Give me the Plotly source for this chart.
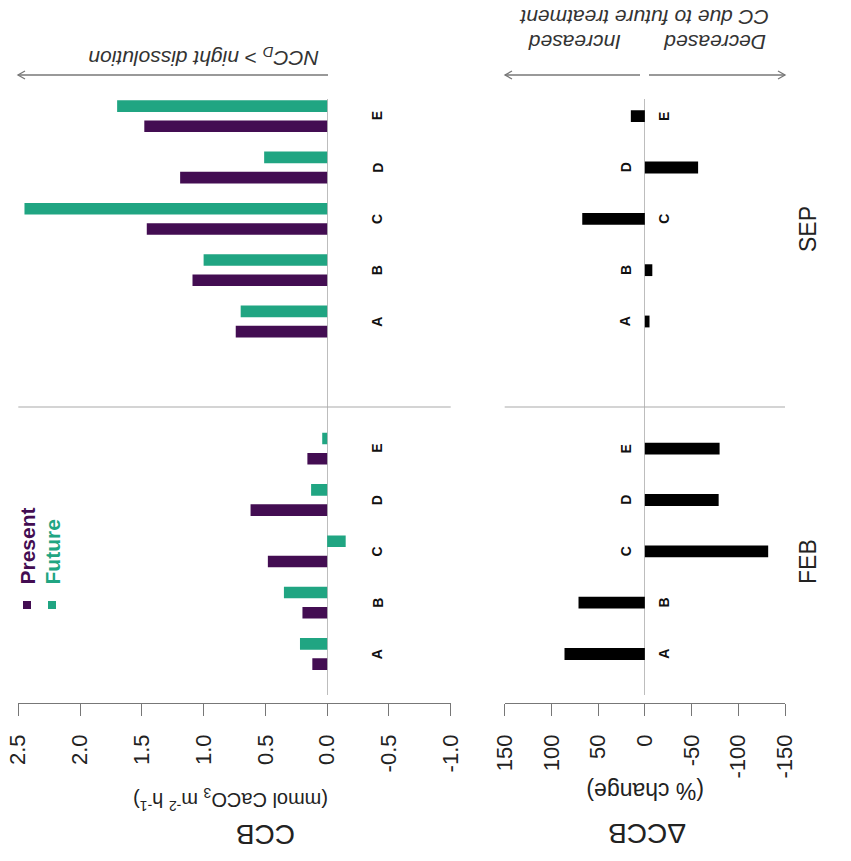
import plotly.graph_objects as go

W, H = 851, 861

# ---------------- data ----------------
categories = ['A', 'B', 'C', 'D', 'E']
months = ['FEB', 'SEP']
series_names = ['Present', 'Future']

feb_present = [0.12, 0.20, 0.48, 0.62, 0.16]
feb_future = [0.22, 0.35, -0.15, 0.13, 0.04]
sep_present = [0.74, 1.09, 1.46, 1.19, 1.48]
sep_future = [0.70, 1.00, 2.45, 0.51, 1.70]

feb_change = [86, 71, -132, -79, -80]
sep_change = [-5, -8, 67, -57, 15]

ccb_ticks = [2.5, 2.0, 1.5, 1.0, 0.5, 0.0, -0.5, -1.0]
ccb_ticktext = ['2.5', '2.0', '1.5', '1.0', '0.5', '0.0', '-0.5', '-1.0']
change_ticks = [150, 100, 50, 0, -50, -100, -150]
change_ticktext = ['150', '100', '50', '0', '-50', '-100', '-150']

# ---------------- style ----------------
PURPLE = '#430D52'
TEAL = '#20A582'
AXIS_GREY = '#777777'
FONT = 'Liberation Sans, Arial, Helvetica, sans-serif'


def px(x):
    return x / W


def py(y):
    return 1 - y / H


fig = go.Figure()

# CCB panels
for yax, pres, fut in [('y', feb_present, feb_future), ('y2', sep_present, sep_future)]:
    fig.add_trace(go.Bar(y=categories, x=pres, orientation='h', xaxis='x', yaxis=yax,
                         marker=dict(color=PURPLE, line=dict(width=0)), width=0.226, offset=-0.31,
                         name=series_names[0], showlegend=False))
    fig.add_trace(go.Bar(y=categories, x=fut, orientation='h', xaxis='x', yaxis=yax,
                         marker=dict(color=TEAL, line=dict(width=0)), width=0.226, offset=0.084,
                         name=series_names[1], showlegend=False))

# Delta CCB panels
for yax, ch in [('y', feb_change), ('y2', sep_change)]:
    fig.add_trace(go.Bar(y=categories, x=ch, orientation='h', xaxis='x2', yaxis=yax,
                         marker=dict(color='black', line=dict(width=0)), width=0.23, offset=-0.115,
                         name='ΔCCB', showlegend=False))

xcommon = dict(anchor='free', position=py(702.7), showline=True, linecolor=AXIS_GREY, linewidth=1,
               ticks='outside', ticklen=12, tickcolor=AXIS_GREY, tickwidth=1, tickangle=-90,
               tickfont=dict(size=22, color='#222', family=FONT), showgrid=False, automargin=False,
               zeroline=True, zerolinecolor='#bdbdbd', zerolinewidth=1.2, ticklabelstandoff=10)

fig.update_layout(
    template='none',
    width=W, height=H, margin=dict(l=0, r=0, t=0, b=0, pad=0, autoexpand=False),
    paper_bgcolor='white', plot_bgcolor='white', barmode='overlay', showlegend=False,
    font=dict(family=FONT, color='#222'),
    xaxis=dict(domain=[px(18.3), px(450.7)], range=[2.5, -1.0], tickvals=ccb_ticks,
               ticktext=ccb_ticktext, **xcommon),
    xaxis2=dict(domain=[px(504.7), px(785)], range=[150, -150], tickvals=change_ticks,
                ticktext=change_ticktext, **xcommon),
    yaxis=dict(domain=[py(695), py(407)], type='category', categoryorder='array',
               categoryarray=categories, range=[-0.799, 4.812], visible=False,
               anchor='free', position=0, automargin=False, showgrid=False, zeroline=False),
    yaxis2=dict(domain=[py(407), py(99)], type='category', categoryorder='array',
                categoryarray=categories, range=[-1.666, 4.335], visible=False,
                anchor='free', position=0, automargin=False, showgrid=False, zeroline=False),
)

shapes = []
for xr in ['x domain', 'x2 domain']:
    shapes.append(dict(type='line', xref=xr, x0=0, x1=1, yref='paper', y0=py(407), y1=py(407),
                       line=dict(color='#aaaaaa', width=1.2)))
# legend squares
for cx, col in [(27, PURPLE), (52, TEAL)]:
    shapes.append(dict(type='rect', xref='paper', yref='paper', x0=px(cx - 4), x1=px(cx + 4),
                       y0=py(609), y1=py(601), fillcolor=col, line=dict(width=0)))

# top arrows (line + open chevron head)
ARROW_Y = 75
for head, tail in [(18, 328), (505, 640), (785, 649)]:
    d = 1 if tail > head else -1
    shapes.append(dict(type='line', xref='paper', yref='paper', x0=px(head), x1=px(tail),
                       y0=py(ARROW_Y), y1=py(ARROW_Y), line=dict(color=AXIS_GREY, width=1.3)))
    path = 'M %f,%f L %f,%f L %f,%f' % (px(head + d * 7), py(ARROW_Y - 4), px(head), py(ARROW_Y),
                                        px(head + d * 7), py(ARROW_Y + 4))
    shapes.append(dict(type='path', xref='paper', yref='paper', path=path,
                       line=dict(color=AXIS_GREY, width=1.3)))
fig.update_layout(shapes=shapes)

ann = []


def add_text(text, x, y, size, color='#222', angle=0, xref='paper', yref='paper', xshift=0):
    ann.append(dict(text=text, x=x, y=y, xref=xref, yref=yref, xshift=xshift, showarrow=False,
                    textangle=angle, xanchor='center', yanchor='middle',
                    font=dict(size=size, color=color, family=FONT)))


# legend texts
add_text('<b>Present</b>', px(27), py(546.5), 21, PURPLE, -90)
add_text('<b>Future</b>', px(52), py(552.5), 21, TEAL, -90)

# category labels
for yax, ch in [('y', feb_change), ('y2', sep_change)]:
    for cat, v in zip(categories, ch):
        add_text('<b>%s</b>' % cat, 0, cat, 14, '#111', -90, xref='x', yref=yax, xshift=50)
        add_text('<b>%s</b>' % cat, 0, cat, 14, '#111', -90, xref='x2', yref=yax,
                 xshift=19 if v > 0 else -19)

# month labels
for m, yc in zip(months, [562, 229]):
    add_text(m, px(808), py(yc), 23, '#222', -90)

# axis titles (upside-down)
add_text('(mmol CaCO<sub>3</sub> m<sup>-2</sup> h<sup>-1</sup>)', px(231), py(800), 20, '#222', 180)
add_text('CCB', px(266), py(835), 28, '#222', 180)
add_text('(% change)', px(645), py(791), 23, '#222', 180)
add_text('ΔCCB', px(647), py(834), 28, '#222', 180)

# top explanatory texts (upside-down, italic)
add_text('<i>NCC<sub>D</sub> > night dissolution</i>', px(204), py(57), 21, '#333', 180)
add_text('<i>Increased</i>', px(574.5), py(43), 21, '#333', 180)
add_text('<i>Decreased</i>', px(715), py(43), 21, '#333', 180)
add_text('<i>CC due to future treatment</i>', px(644), py(18), 21, '#333', 180)

fig.update_layout(annotations=ann)

fig.write_html('out.html')
